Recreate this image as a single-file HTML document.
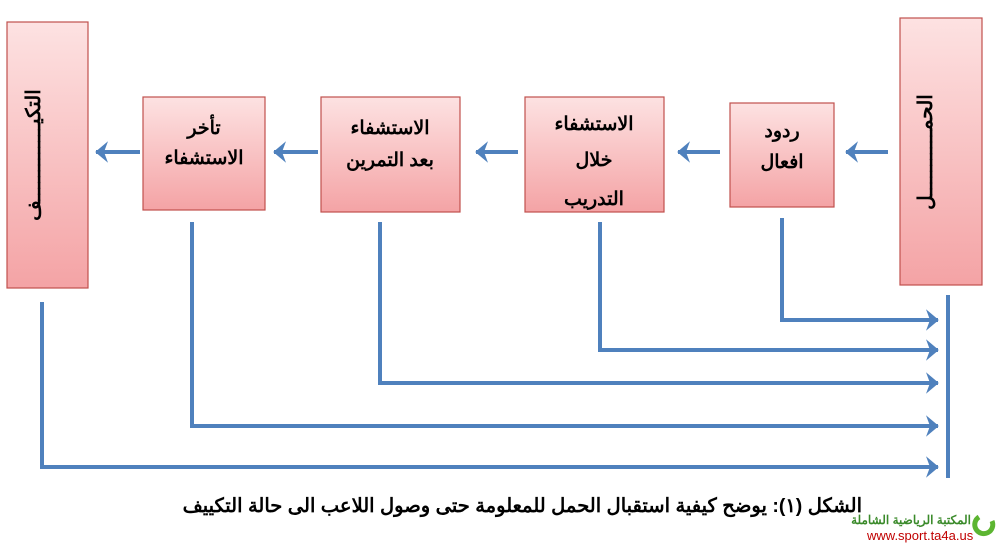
<!DOCTYPE html>
<html><head><meta charset="utf-8"><style>
body{margin:0;width:1008px;height:552px;background:#fff;overflow:hidden}
svg text{font-family:"Liberation Sans","Noto Sans CJK SC",sans-serif;font-weight:bold;fill:#000}
</style></head><body>
<svg width="1008" height="552" viewBox="0 0 1008 552">
<defs>
<linearGradient id="g" x1="0" y1="0" x2="0" y2="1">
<stop offset="0" stop-color="#fde2e2"/><stop offset="1" stop-color="#f4a3a5"/></linearGradient>
<marker id="a" markerWidth="6" markerHeight="6" refX="3" refY="3" orient="auto" markerUnits="strokeWidth">
<path d="M0,0.3 L3.2,3 L0,5.7 L1,3 Z" fill="#4f81bd"/></marker>
</defs>
<g stroke="#c0504d" stroke-width="1.2" fill="url(#g)">
<rect x="7" y="22" width="81" height="266"/>
<rect x="900" y="18" width="82" height="267"/>
<rect x="143" y="97" width="122" height="113"/>
<rect x="321" y="97" width="139" height="115"/>
<rect x="525" y="97" width="139" height="115"/>
<rect x="730" y="103" width="104" height="104"/>
</g>
<g stroke="#4f81bd" stroke-width="4" fill="none" marker-end="url(#a)">
<line x1="140" y1="152" x2="96" y2="152"/>
<line x1="318" y1="152" x2="274" y2="152"/>
<line x1="518" y1="152" x2="476" y2="152"/>
<line x1="720" y1="152" x2="678" y2="152"/>
<line x1="888" y1="152" x2="846" y2="152"/>
<polyline points="782,218 782,320 938,320"/>
<polyline points="600,222 600,350 938,350"/>
<polyline points="380,222 380,383 938,383"/>
<polyline points="192,222 192,426 938,426"/>
<polyline points="42,302 42,467 938,467"/>
</g>
<line x1="948" y1="295" x2="948" y2="478" stroke="#4f81bd" stroke-width="4"/>
<g font-size="19" text-anchor="middle">
<text x="204" y="134">تأخر</text>
<text x="204" y="164">الاستشفاء</text>
<text x="390" y="134">الاستشفاء</text>
<text x="390" y="166">بعد التمرين</text>
<text x="594" y="130">الاستشفاء</text>
<text x="594" y="166">خلال</text>
<text x="594" y="205">التدريب</text>
<text x="782" y="137">ردود</text>
<text x="782" y="168">افعال</text>
<text transform="translate(40,155) rotate(-90)" font-size="20">التكيـــــــــــــف</text>
<text transform="translate(932,152) rotate(-90)" font-size="20">الحمـــــــــــل</text>
</g>
<text x="862" y="512" font-size="19.5" text-anchor="end">الشكل (١): يوضح كيفية استقبال الحمل للمعلومة حتى وصول اللاعب الى حالة التكييف</text>
<text x="971" y="524" font-size="12" text-anchor="end" style="fill:#3a8a2a">المكتبة الرياضية الشاملة</text>
<text x="867" y="540" font-size="13" style="fill:#c00000;font-weight:normal">www.sport.ta4a.us</text>
<path d="M979,517 a9,9 0 1,0 13,4" stroke="#5cb531" stroke-width="5" fill="none"/>
</svg>
</body></html>
